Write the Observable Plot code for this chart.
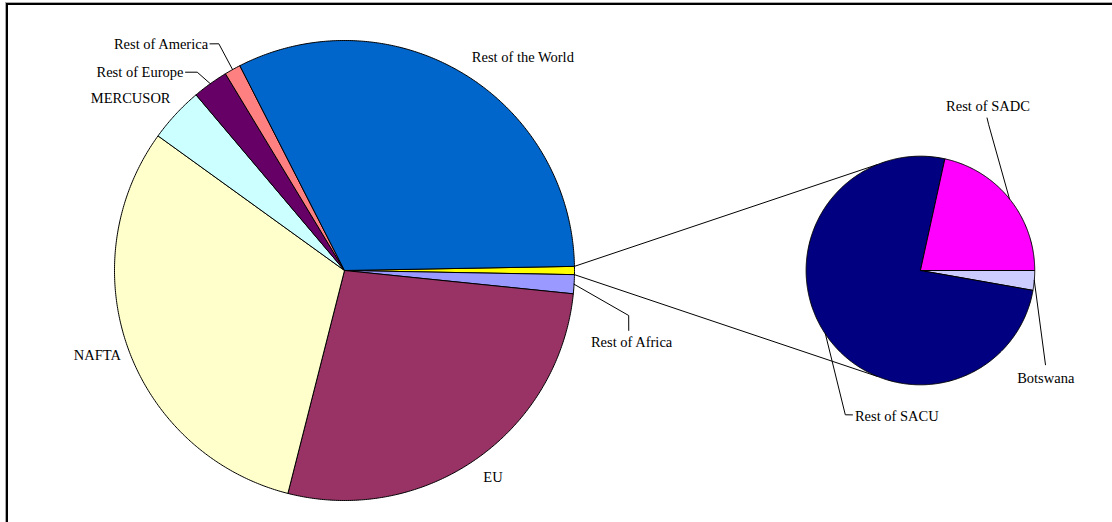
<!DOCTYPE html>
<html><head><meta charset="utf-8">
<script src="https://cdn.jsdelivr.net/npm/d3@7"></script>
<script src="https://cdn.jsdelivr.net/npm/@observablehq/plot@0.6"></script>
<style>
html,body{margin:0;padding:0;background:#fff;overflow:hidden;}
#wrap{position:relative;width:1112px;height:522px;overflow:hidden;}
#frame{position:absolute;left:6px;top:3px;width:1200px;height:600px;border-left:2px solid #000;border-top:2px solid #000;box-shadow:-1px -1px 0 #aaa;pointer-events:none;}
</style></head><body><div id="wrap"><div id="chart"></div><div id="frame"></div></div>
<script>
// ---- data (percent of total exports) ----
const mainNames  = ["Rest of Africa","EU","NAFTA","MERCUSOR","Rest of Europe","Rest of America","Rest of the World"];
const mainValues = [1.33, 27.34, 30.99, 3.88, 2.51, 1.14, 32.23];
const mainColors = ["#9999FF","#993366","#FFFFCC","#CCFFFF","#660066","#FF8080","#0066CC"];
const otherColor = "#FFFF00";
const secondNames  = ["Botswana","Rest of SACU","Rest of SADC"];
const secondValues = [0.016, 0.435, 0.124];
const secondColors = ["#CCCCFF","#000080","#FF00FF"];

// ---- layout ----
const W = 1112, H = 522, PX = 230;       // pixels per data unit
const CX = 344, CY = 270;                // main pie centre in pixels
const main = {cx: 0, cy: 0, r: 1};
const second = {cx: 2.504, cy: 0, r: 0.497};
const connectorAngles = [248, 112];      // where the connector lines meet the secondary pie
const labelLayout = [
  {name:"Rest of the World", text:[309.9,1.209], anchor:"middle"},
  {name:"EU",                text:[54.35,1.108], anchor:"middle"},
  {name:"NAFTA",             text:[161.1,1.136], anchor:"middle"},
  {name:"MERCUSOR",          text:[224.7,1.064], anchor:"end"},
  {name:"Rest of Europe",    leader:[[233.4,1.074],[231.28,1.105]], text:[230.9,1.110], anchor:"end"},
  {name:"Rest of America",   leader:[[241.0,1.127],[239.3,1.146]],  text:[238.9,1.148], anchor:"end"},
  {name:"Rest of Africa",    leader:[[9.0,1.251],[11.9,1.263]],     text:[14.1,1.287],  anchor:"middle"},
  {name:"Rest of SADC",      leader:[[295.1,1.408],[293.6,1.456]],  text:[292.4,1.551], anchor:"middle"},
  {name:"Botswana",          leader:[[37.0,1.370]],                 text:[40.7,1.446],  anchor:"middle"},
  {name:"Rest of SACU",      leader:[[117.5,1.423],[115.2,1.396]],  text:[114.2,1.398], anchor:"start"}
];

function polar(p, deg, k) {
  const t = deg * Math.PI / 180;
  return [p.cx + p.r * k * Math.cos(t), p.cy - p.r * k * Math.sin(t)];
}

// build slices
const otherValue = d3.sum(secondValues);
const mainTotal = d3.sum(mainValues) + otherValue;
const slices = [];
let a = -otherValue / mainTotal * 360 / 2;
const mainSlices = [{name:"Other", value: otherValue, color: otherColor}]
  .concat(mainNames.map((n, i) => ({name: n, value: mainValues[i], color: mainColors[i]})));
mainSlices.forEach(s => { s.a0 = a; a += s.value / mainTotal * 360; s.a1 = a; s.pie = main; slices.push(s); });
const otherSlice = mainSlices[0];
let b = 0;
secondNames.forEach((n, i) => {
  const s = {name: n, value: secondValues[i], color: secondColors[i], pie: second};
  s.a0 = b; b += secondValues[i] / otherValue * 360; s.a1 = b; slices.push(s);
});
slices.forEach(s => s.mid = (s.a0 + s.a1) / 2);

function wedge(s) {
  const pts = [[s.pie.cx, s.pie.cy]];
  const n = Math.max(2, Math.ceil((s.a1 - s.a0) / 0.5));
  for (let i = 0; i <= n; i++) pts.push(polar(s.pie, s.a0 + (s.a1 - s.a0) * i / n, 1));
  pts.push([s.pie.cx, s.pie.cy]);
  return pts.map(([x, y]) => ({x, y, name: s.name, color: s.color}));
}
const wedgePts = slices.flatMap(wedge);

const connectors = [
  {p1: polar(main, otherSlice.a0, 1), p2: polar(second, connectorAngles[0], 1)},
  {p1: polar(main, otherSlice.a1, 1), p2: polar(second, connectorAngles[1], 1)}
];

const byName = new Map(slices.map(s => [s.name, s]));
const leaderPts = [];
const labels = [];
labelLayout.forEach(l => {
  const s = byName.get(l.name);
  if (l.leader) {
    const pts = [polar(s.pie, s.mid, 1)].concat(l.leader.map(([ang, k]) => polar(s.pie, ang, k)));
    pts.forEach(([x, y]) => leaderPts.push({x, y, name: l.name}));
  }
  const [x, y] = polar(s.pie, l.text[0], l.text[1]);
  labels.push({x, y, name: l.name, anchor: l.anchor});
});

const font = {fontFamily: "'Liberation Serif', 'Times New Roman', serif", fontSize: 14.5, fill: "#000"};
const chart = Plot.plot({
  width: W, height: H, margin: 0,
  style: {background: "transparent"},
  x: {domain: [-CX / PX, (W - CX) / PX], axis: null},
  y: {domain: [(CY - H) / PX, CY / PX], axis: null},
  color: {type: "identity"},
  marks: [
    Plot.link(connectors, {x1: d => d.p1[0], y1: d => d.p1[1], x2: d => d.p2[0], y2: d => d.p2[1], stroke: "#000", strokeWidth: 1}),
    Plot.line(wedgePts, {x: "x", y: "y", z: "name", fill: "color", stroke: "#000", strokeWidth: 1, strokeLinejoin: "round"}),
    Plot.line(leaderPts, {x: "x", y: "y", z: "name", stroke: "#000", strokeWidth: 1}),
    Plot.text(labels.filter(d => d.anchor === "middle"), {x: "x", y: "y", text: "name", textAnchor: "middle", ...font}),
    Plot.text(labels.filter(d => d.anchor === "end"), {x: "x", y: "y", text: "name", textAnchor: "end", ...font}),
    Plot.text(labels.filter(d => d.anchor === "start"), {x: "x", y: "y", text: "name", textAnchor: "start", ...font})
  ]
});
document.getElementById("chart").appendChild(chart);
</script>
</body></html>
